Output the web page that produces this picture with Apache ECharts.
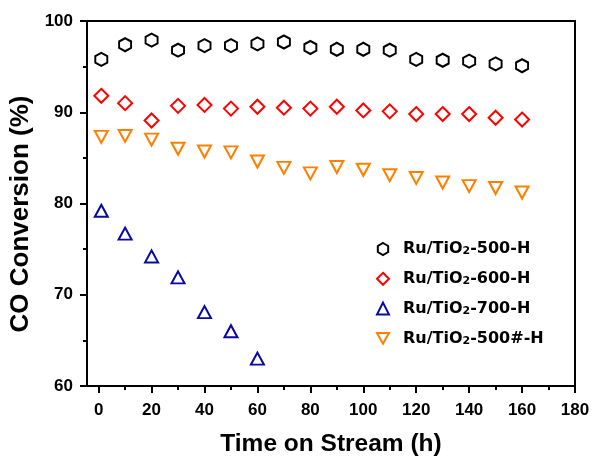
<!DOCTYPE html>
<html>
<head>
<meta charset="utf-8">
<script src="https://cdn.jsdelivr.net/npm/echarts@6/dist/echarts.min.js"></script>
<style>
    html, body { margin: 0; padding: 0; background: #fff; }
    #chart { width: 593px; height: 457px; }
</style>
</head>
<body>
<div id="chart"></div>
<script>
    // time on stream (h)
    let time_500 = [1, 10, 20, 30, 40, 50, 60, 70, 80, 90, 100, 110, 120, 130, 140, 150, 160];
    let time_700 = [1, 10, 20, 30, 40, 50, 60];

    // CO conversion (%)
    let conv_500 = [95.8, 97.4, 97.9, 96.8, 97.3, 97.3, 97.5, 97.7, 97.1, 96.9, 96.9, 96.8, 95.8, 95.7, 95.6, 95.3, 95.1];
    let conv_600 = [91.8, 91.0, 89.1, 90.7, 90.8, 90.4, 90.6, 90.5, 90.4, 90.6, 90.2, 90.1, 89.8, 89.8, 89.8, 89.4, 89.2];
    let conv_700 = [79.2, 76.7, 74.2, 71.9, 68.1, 66.0, 63.0];
    let conv_500b = [87.3, 87.4, 87.0, 86.0, 85.7, 85.6, 84.6, 83.9, 83.3, 84.0, 83.7, 83.1, 82.8, 82.3, 81.9, 81.7, 81.2];

    let names = ['Ru/TiO2-500-H', 'Ru/TiO2-600-H', 'Ru/TiO2-700-H', 'Ru/TiO2-500#-H'];
    let x_major = [0, 20, 40, 60, 80, 100, 120, 140, 160, 180];
    let x_minor = [10, 30, 50, 70, 90, 110, 130, 150, 170];

    let hexagon = 'path://M5,0 L10,2.9 L10,8.7 L5,11.6 L0,8.7 L0,2.9 Z';
    let down_triangle = 'path://M0,0 L10,0 L5,9 Z';

    function pairs(xs, ys){
        return xs.map(function(x, i){ return [x, ys[i]]; });
    }

    function make_series(name, data, symbol, size, color){
        return {
            name: name,
            type: 'scatter',
            data: data,
            symbol: symbol,
            symbolSize: size,
            itemStyle: {
                color: '#fff',
                borderColor: color,
                borderWidth: 2,
                opacity: 1
            }
        };
    }

    let chart = echarts.init(document.getElementById('chart'));

    chart.setOption({
        animation: false,
        grid: {
            left: 87,
            right: 18,
            top: 21,
            bottom: 71,
            outerBoundsMode: 'none',
            show: true,
            borderColor: '#000',
            borderWidth: 2
        },
        legend: {
            orient: 'vertical',
            left: 371,
            top: 236,
            itemWidth: 12,
            itemHeight: 12,
            itemGap: 13.8,
            formatter: function(name){
                let parts = name.split('2');
                return '{g|}{a|' + parts[0] + '}{s|2}{a|' + parts.slice(1).join('2') + '}';
            },
            textStyle: {
                rich: {
                    g: { width: 9 },
                    a: { fontFamily: 'DejaVu Sans', fontWeight: 'bold', fontSize: 16, color: '#000' },
                    s: { fontFamily: 'DejaVu Sans', fontWeight: 'bold', fontSize: 11, color: '#000', verticalAlign: 'bottom', lineHeight: 4 }
                }
            },
            data: names
        },
        xAxis: [
            {
                type: 'value',
                min: -4.4,
                max: 180,
                name: 'Time on Stream (h)',
                nameLocation: 'middle',
                nameGap: 46,
                nameTextStyle: { fontFamily: 'Liberation Sans', fontWeight: 'bold', fontSize: 24.5, color: '#000' },
                axisLine: { onZero: false, lineStyle: { color: '#000', width: 2 } },
                axisTick: { length: 7, lineStyle: { color: '#000', width: 2 }, customValues: x_major },
                axisLabel: {
                    customValues: x_major,
                    margin: 16,
                    fontFamily: 'Liberation Sans',
                    fontWeight: 'bold',
                    fontSize: 17,
                    color: '#000'
                },
                splitLine: { show: false }
            },
            {
                type: 'value',
                min: -4.4,
                max: 180,
                position: 'bottom',
                axisLine: { show: false, onZero: false },
                axisTick: { length: 4, lineStyle: { color: '#000', width: 2 }, customValues: x_minor },
                axisLabel: { show: false },
                splitLine: { show: false }
            }
        ],
        yAxis: {
            type: 'value',
            min: 60,
            max: 100,
            interval: 10,
            name: 'CO Conversion (%)',
            nameLocation: 'middle',
            nameGap: 45,
            nameTextStyle: { fontFamily: 'Liberation Sans', fontWeight: 'bold', fontSize: 26, color: '#000', padding: [0, 21, 0, 0] },
            axisLine: { show: true, onZero: false, lineStyle: { color: '#000', width: 2 } },
            axisTick: { show: true, length: 7, lineStyle: { color: '#000', width: 2 } },
            minorTick: { show: true, splitNumber: 2, length: 4, lineStyle: { color: '#000', width: 2 } },
            axisLabel: {
                margin: 14,
                fontFamily: 'Liberation Sans',
                fontWeight: 'bold',
                fontSize: 17,
                color: '#000'
            },
            splitLine: { show: false }
        },
        series: [
            make_series(names[0], pairs(time_500, conv_500), hexagon, [12, 13], '#000000'),
            make_series(names[1], pairs(time_500, conv_600), 'diamond', [14, 14], '#ff0000'),
            make_series(names[2], pairs(time_700, conv_700), 'triangle', [13, 12], '#0a0aa0'),
            make_series(names[3], pairs(time_500, conv_500b), down_triangle, [13, 12], '#ff8000')
        ]
    });
</script>
</body>
</html>
